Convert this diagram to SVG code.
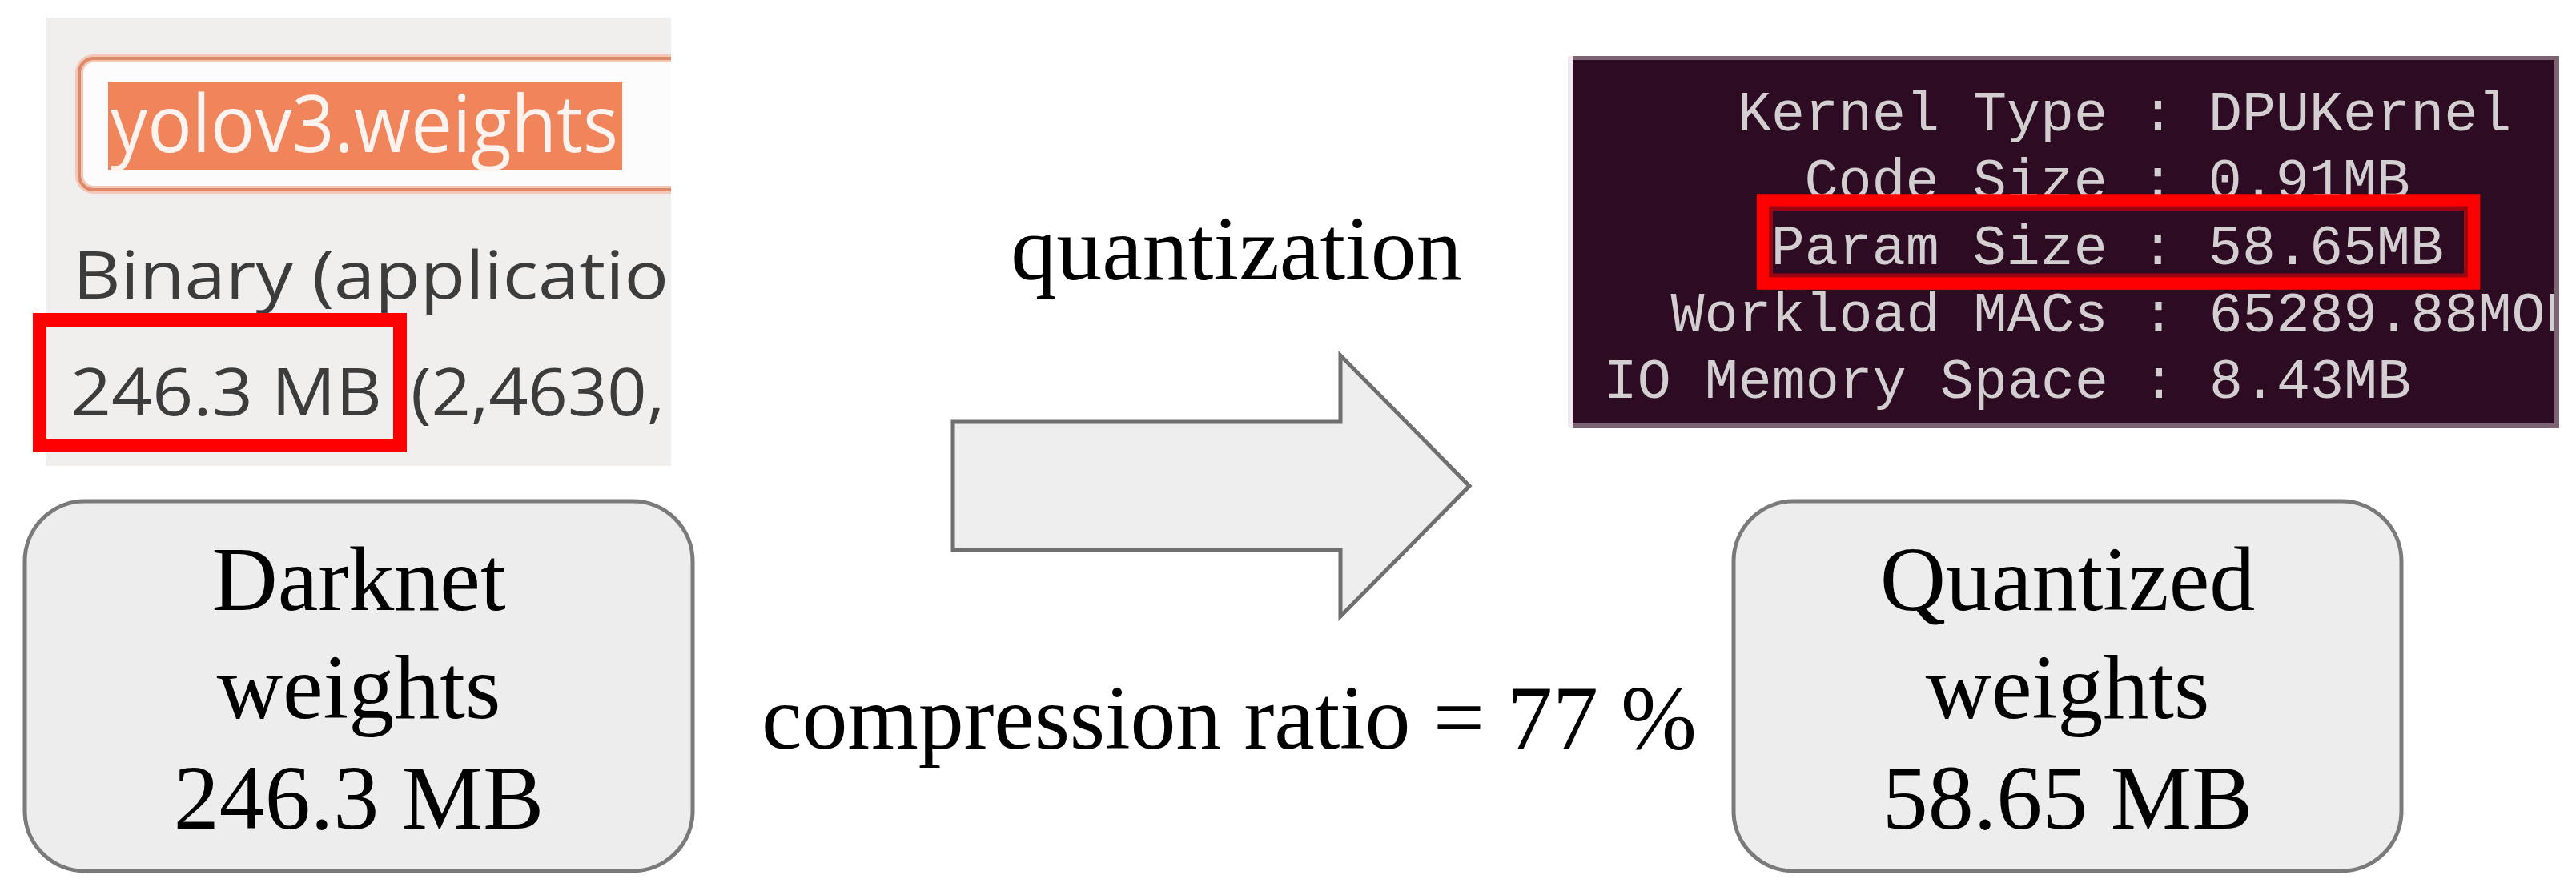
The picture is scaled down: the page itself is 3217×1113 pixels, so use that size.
<svg xmlns="http://www.w3.org/2000/svg" width="3217" height="1113" viewBox="0 0 3217 1113">
<style>
.node rect{fill:#ededed;stroke:#7a7a7a;stroke-width:5}
.serif{font-family:"Liberation Serif","Times New Roman",serif;font-size:114px;fill:#000;text-anchor:middle}
.mono{font-family:"Liberation Mono","DejaVu Sans Mono",monospace;font-size:70px;fill:#d3cfd1}
.ui{font-family:"Open Sans","Noto Sans",sans-serif;font-size:82px;fill:#3c3c3c}
.hl{fill:none;stroke:#ff0000}
</style>
<defs>
<clipPath id="clipL"><rect x="57" y="22" width="781" height="560"/></clipPath>
<clipPath id="clipT"><rect x="1964" y="75" width="1226" height="454"/></clipPath>
</defs>
<rect width="3217" height="1113" fill="#ffffff"/>

<g id="screenshot-file">
  <rect x="57" y="22" width="781" height="560" fill="#f0efed"/>
  <g clip-path="url(#clipL)">
    <rect x="99" y="73" width="800" height="164" rx="18" fill="#fcfcfc" stroke="#f2c8b8" stroke-width="10"/>
    <rect x="99" y="73" width="800" height="164" rx="18" fill="none" stroke="#df8867" stroke-width="4"/>
    <rect x="135" y="102" width="642" height="110" fill="#f0845a"/>
    <text x="138" y="190" font-family="'Open Sans','Noto Sans',sans-serif" font-size="98" fill="#fff3ef" textLength="634" lengthAdjust="spacingAndGlyphs">yolov3.weights</text>
    <text class="ui" x="91" y="373" textLength="744" lengthAdjust="spacingAndGlyphs">Binary (applicatio</text>
    <text class="ui" x="88" y="519" textLength="389" lengthAdjust="spacingAndGlyphs">246.3 MB</text>
    <text class="ui" x="513" y="519" textLength="317" lengthAdjust="spacingAndGlyphs">(2,4630,</text>
  </g>
  <rect class="hl" x="49.5" y="399.5" width="450" height="157" stroke-width="17"/>
</g>

<g id="screenshot-terminal">
  <rect x="1958" y="70" width="1238" height="465" fill="#7c6373"/>
  <rect x="1958" y="70" width="6" height="465" fill="#efeaef"/>
  <rect x="1964" y="75" width="1226" height="454" fill="#2d0b22"/>
  <g clip-path="url(#clipT)">
    <text class="mono" x="2170" y="163">Kernel Type : DPUKernel</text>
    <text class="mono" x="2253.6" y="246.5">Code Size : 0.91MB</text>
    <text class="mono" x="2211.8" y="330">Param Size : 58.65MB</text>
    <text class="mono" x="2086.4" y="413.5">Workload MACs : 65289.88MOP</text>
    <text class="mono" x="2002.8" y="497">IO Memory Space : 8.43MB</text>
  </g>
  <rect x="2211.5" y="260.5" width="868" height="83.5" fill="none" stroke="#9a0612" stroke-width="5"/>
  <rect class="hl" x="2201.5" y="250" width="888" height="104" stroke-width="15.5"/>
</g>

<g id="node-darknet" class="node">
  <rect x="31" y="626" width="834" height="462" rx="75"/>
  <text class="serif" x="448" y="762">Darknet</text>
  <text class="serif" x="448" y="897">weights</text>
  <text class="serif" x="448" y="1035">246.3 MB</text>
</g>

<g id="node-quantized" class="node">
  <rect x="2165" y="626" width="834" height="462" rx="75"/>
  <text class="serif" x="2582" y="762">Quantized</text>
  <text class="serif" x="2582" y="897">weights</text>
  <text class="serif" x="2582" y="1035">58.65 MB</text>
</g>

<g id="connectors">
  <polygon points="1190,527 1674,527 1674,444 1835,607 1674,770 1674,687 1190,687" fill="#eeeeee" stroke="#6f6f6f" stroke-width="5" stroke-linejoin="miter"/>
  <text class="serif" x="1544" y="349">quantization</text>
  <text class="serif" x="1535" y="935" textLength="1168" lengthAdjust="spacing">compression ratio = 77 %</text>
</g>
</svg>
